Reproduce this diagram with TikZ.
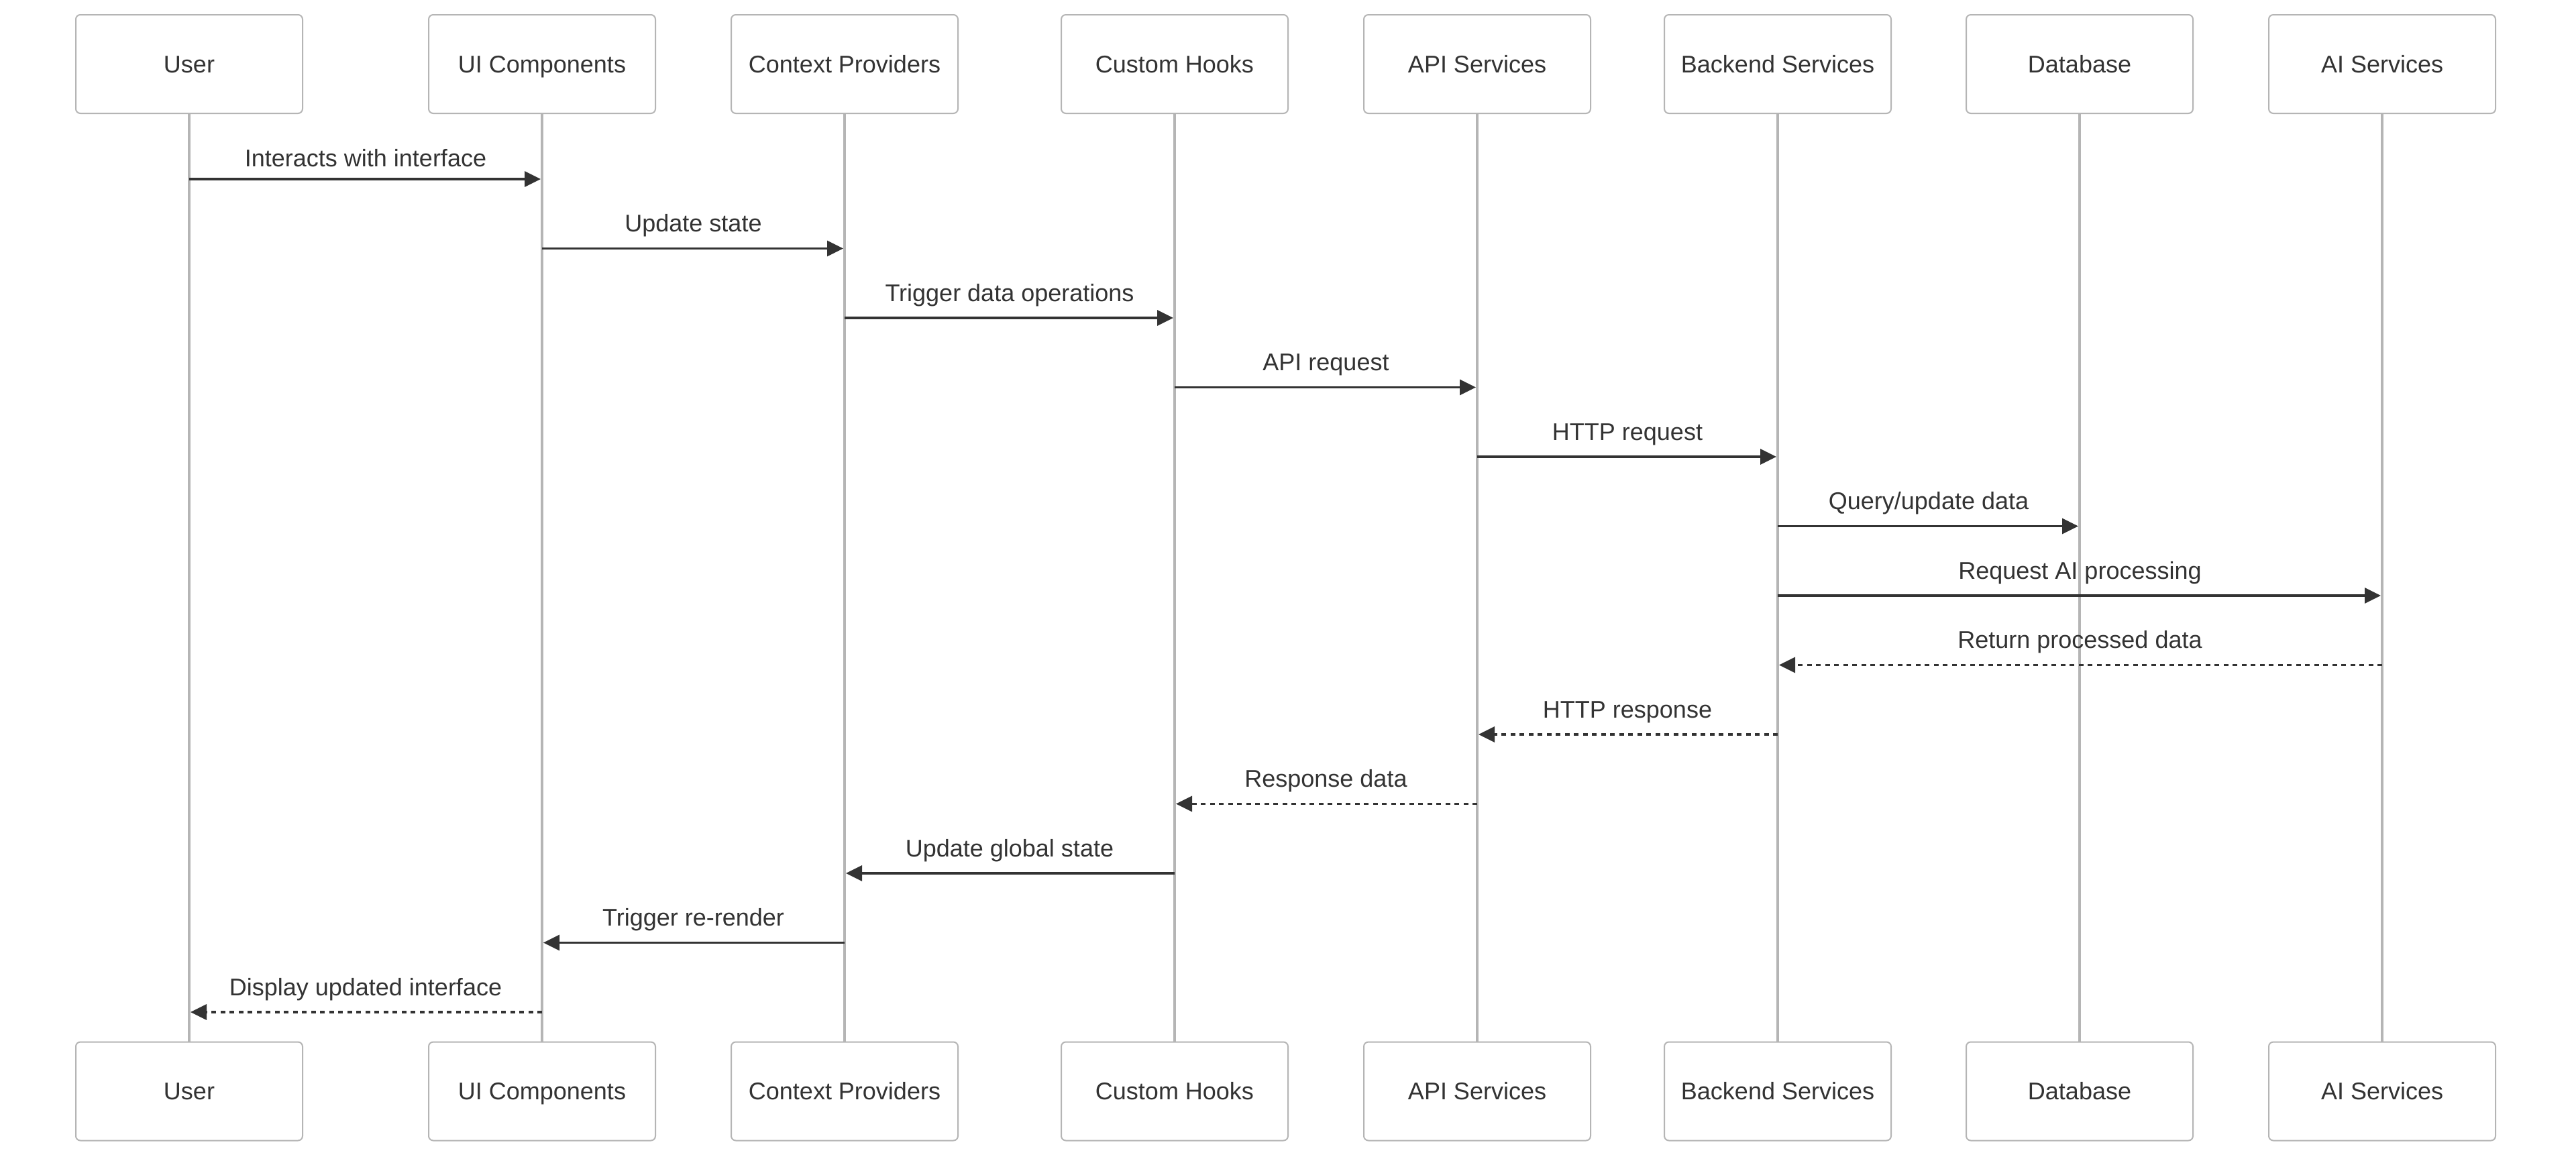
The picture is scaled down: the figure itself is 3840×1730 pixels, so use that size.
\documentclass[tikz,border=0pt]{standalone}
\usepackage{fontspec}
\setmainfont{Liberation Sans}
\usetikzlibrary{arrows.meta}
\definecolor{ink}{HTML}{333333}
\definecolor{edgegray}{HTML}{B5B5B5}
\begin{document}
\begin{tikzpicture}[x=0.5pt,y=-0.5pt,
  actor/.style={draw=edgegray,line width=1pt,rounded corners=3.4pt,fill=white,
    minimum width=169pt,minimum height=73.5pt,inner sep=0pt,
    text height=12.9pt,text depth=0pt,font=\fontsize{18pt}{21pt}\selectfont,text=ink},
  life/.style={draw=edgegray,line width=2pt},
  msg/.style={draw=ink,line width=1.65pt,-{Triangle[length=12pt,width=11.5pt]}},
  ret/.style={msg,dash pattern=on 3.375pt off 3.375pt},
  lbl/.style={anchor=base,font=\fontsize{18pt}{21pt}\selectfont,text=ink,inner sep=0pt}]
\path[fill=white] (0,0) rectangle (3840,1730);
\useasboundingbox (0,0) rectangle (3840,1730);
% actors top
\node[actor] (uT) at (282,95.5) {User};
\node[actor] (iT) at (808,95.5) {UI Components};
\node[actor] (cT) at (1259,95.5) {Context Providers};
\node[actor] (hT) at (1751,95.5) {Custom Hooks};
\node[actor] (aT) at (2202,95.5) {API Services};
\node[actor] (bT) at (2650,95.5) {Backend Services};
\node[actor] (dT) at (3100,95.5) {Database};
\node[actor] (sT) at (3551,95.5) {AI Services};
% actors bottom
\node[actor] (uB) at (282,1627) {User};
\node[actor] (iB) at (808,1627) {UI Components};
\node[actor] (cB) at (1259,1627) {Context Providers};
\node[actor] (hB) at (1751,1627) {Custom Hooks};
\node[actor] (aB) at (2202,1627) {API Services};
\node[actor] (bB) at (2650,1627) {Backend Services};
\node[actor] (dB) at (3100,1627) {Database};
\node[actor] (sB) at (3551,1627) {AI Services};
% lifelines
\foreach \n in {u,i,c,h,a,b,d,s}{
  \draw[life] (\n T.south) -- (\n B.north);
}
% message rows
\coordinate (r1) at (0,267);
\coordinate (r2) at (0,370.5);
\coordinate (r3) at (0,474);
\coordinate (r4) at (0,577.5);
\coordinate (r5) at (0,681);
\coordinate (r6) at (0,784.5);
\coordinate (r7) at (0,888);
\coordinate (r8) at (0,991.5);
\coordinate (r9) at (0,1095);
\coordinate (r10) at (0,1198.5);
\coordinate (r11) at (0,1302);
\coordinate (r12) at (0,1405.5);
\coordinate (r13) at (0,1509);
% messages
\draw[msg] (uT |- r1) -- ([xshift=-1pt]iT |- r1);
\node[lbl] (l1) at (545,248) {Interacts with interface};
\draw[msg] (iT |- r2) -- ([xshift=-1pt]cT |- r2);
\node[lbl] (l2) at (1033.5,345.5) {Update state};
\draw[msg] (cT |- r3) -- ([xshift=-1pt]hT |- r3);
\node[lbl] (l3) at (1505,449) {Trigger data operations};
\draw[msg] (hT |- r4) -- ([xshift=-1pt]aT |- r4);
\node[lbl] (l4) at (1976.5,552.5) {API request};
\draw[msg] (aT |- r5) -- ([xshift=-1pt]bT |- r5);
\node[lbl] (l5) at (2426,656) {HTTP request};
\draw[msg] (bT |- r6) -- ([xshift=-1pt]dT |- r6);
\node[lbl] (l6) at (2875,759.5) {Query/update data};
\draw[msg] (bT |- r7) -- ([xshift=-1pt]sT |- r7);
\node[lbl] (l7) at (3100.5,863) {Request AI processing};
\draw[ret] (sT |- r8) -- ([xshift=1pt]bT |- r8);
\node[lbl] (l8) at (3100.5,966.5) {Return processed data};
\draw[ret] (bT |- r9) -- ([xshift=1pt]aT |- r9);
\node[lbl] (l9) at (2426,1070) {HTTP response};
\draw[ret] (aT |- r10) -- ([xshift=1pt]hT |- r10);
\node[lbl] (l10) at (1976.5,1173.5) {Response data};
\draw[msg] (hT |- r11) -- ([xshift=1pt]cT |- r11);
\node[lbl] (l11) at (1505,1277) {Update global state};
\draw[msg] (cT |- r12) -- ([xshift=1pt]iT |- r12);
\node[lbl] (l12) at (1033.5,1380.5) {Trigger re-render};
\draw[ret] (iT |- r13) -- ([xshift=1pt]uT |- r13);
\node[lbl] (l13) at (545,1484) {Display updated interface};
\end{tikzpicture}
\end{document}
